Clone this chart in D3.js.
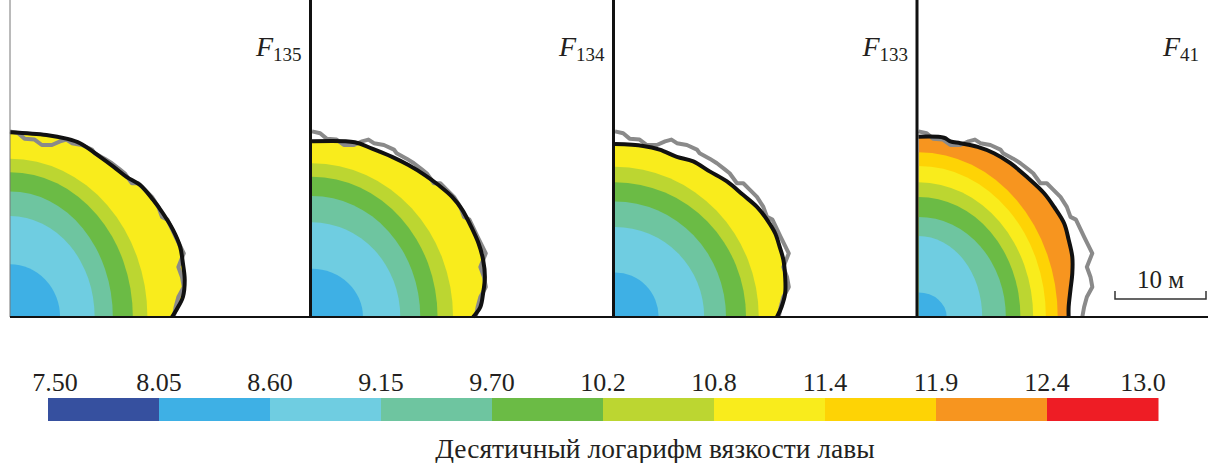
<!DOCTYPE html>
<html>
<head>
<meta charset="utf-8">
<script src="https://cdn.jsdelivr.net/npm/d3@7"></script>
<style>
  body { margin: 0; background: #fff; }
  svg { display: block; }
  text { font-family: "Liberation Serif", "DejaVu Serif", serif; fill: #231f20; }
</style>
</head>
<body>
<div id="chart"></div>
<script>

// colour classes (log10 of lava viscosity)
const classTicks = ["7.50", "8.05", "8.60", "9.15", "9.70", "10.2", "10.8", "11.4", "11.9", "12.4", "13.0"];
const classColors = ["#36509f", "#3eb0e5", "#6fcde1", "#6ec5a0", "#6bbb45", "#bcd631", "#f9ec1c", "#fed305", "#f7951f", "#ee1d25"];

// panels
const panelNames = ["135", "134", "133", "41"];
const outerClass = [6, 6, 6, 8];

// bands inside each flow: [class, rx (m), ry (m)], outer first
const bandsF135 = [[5, 15.1, 17.4], [4, 13.5, 15.9], [3, 11.3, 13.8], [2, 9.3, 11.1], [1, 5.5, 5.8]];
const bandsF134 = [[5, 15.5, 16.9], [4, 13.8, 15.4], [3, 11.9, 13.3], [2, 9.7, 10.4], [1, 5.6, 5.3]];
const bandsF133 = [[5, 15.8, 16.5], [4, 14.4, 14.8], [3, 12.2, 12.7], [2, 9.8, 9.9], [1, 4.8, 4.9]];
const bandsF41 = [[7, 15.3, 18.1], [6, 14.0, 16.6], [5, 12.6, 14.8], [4, 11.2, 13.2], [3, 9.6, 11.0], [2, 7.0, 8.9], [1, 3.1, 2.7]];

// modelled flow outline (m)
const edgeF135 = [[0, 20.3], [4.0, 20.0], [6.2, 19.6], [7.7, 19.1], [9.9, 17.6], [11.4, 16.5], [12.8, 15.4], [14.3, 14.5], [15.7, 12.9], [16.8, 11.4], [17.9, 9.6], [18.7, 7.7], [19.0, 5.9], [19.2, 4.1], [19.0, 2.2], [18.3, 0.8], [17.8, 0]];
const edgeF134 = [[0, 19.3], [4.7, 19.2], [6.6, 18.5], [8.8, 17.6], [10.6, 16.7], [12.4, 15.6], [13.9, 14.5], [15.4, 13.2], [16.5, 11.8], [17.5, 9.9], [18.3, 8.1], [18.8, 6.3], [19.0, 4.4], [18.8, 2.6], [18.5, 1.1], [17.7, 0]];
const edgeF133 = [[0, 19.0], [3.1, 18.8], [4.9, 18.4], [6.8, 17.6], [8.6, 17.1], [10.4, 16.0], [12.3, 14.9], [14.1, 13.4], [15.6, 12.1], [16.7, 10.7], [17.6, 9.2], [18.1, 7.7], [18.5, 6.3], [18.7, 4.4], [18.7, 2.6], [18.3, 1.1], [17.8, 0]];
const edgeF41 = [[0, 19.8], [2.8, 19.7], [3.5, 19.3], [4.6, 19.1], [6.5, 18.7], [8.3, 18.0], [10.1, 16.9], [11.9, 15.4], [13.8, 13.6], [14.9, 12.1], [16.0, 10.3], [16.5, 8.5], [16.9, 6.6], [16.9, 4.8], [16.7, 3.0], [16.5, 1.1], [16.5, 0]];

// observed flow outline (m)
const observed = [[0, 20.4], [0.9, 20.2], [1.6, 19.6], [2.7, 19.5], [3.5, 18.9], [4.6, 18.9], [5.5, 19.3], [6.2, 19.5], [6.8, 19.1], [7.9, 18.9], [9.0, 18.4], [9.3, 18.0], [10.4, 17.4], [11.2, 16.9], [12.1, 16.2], [12.6, 15.8], [13.4, 14.7], [14.1, 14.7], [14.8, 14.0], [15.6, 13.2], [16.3, 12.1], [16.7, 11.0], [17.3, 10.7], [18.2, 8.8], [19.1, 7.0], [18.5, 5.5], [18.9, 4.4], [19.1, 3.3], [18.5, 2.2], [18.2, 1.1], [18.0, 0]];

const panelBands = [bandsF135, bandsF134, bandsF133, bandsF41];
const panelEdges = [edgeF135, edgeF134, edgeF133, edgeF41];

const width = 1208, height = 463;
const baseY = 317;
const panelLeft = [10, 312, 615, 918.5];
const dividers = [310.5, 613.5, 917];

const svg = d3.select("#chart").append("svg")
    .attr("width", width)
    .attr("height", height);

// metres -> pixels, relative to each panel's corner
const x = d3.scaleLinear().domain([0, 10]).range([0, 91]);
const y = d3.scaleLinear().domain([0, 10]).range([0, -91]);
const color = d3.scaleOrdinal().domain(d3.range(10)).range(classColors);

const line = d3.line().x(d => x(d[0])).y(d => y(d[1]));
const smooth = d3.line().x(d => x(d[0])).y(d => y(d[1])).curve(d3.curveCatmullRom);

const defs = svg.append("defs");

panelNames.forEach((name, i) => {
    let g = svg.append("g")
        .attr("transform", `translate(${panelLeft[i]},${baseY})`);

    defs.append("clipPath")
        .attr("id", "clip-" + i)
        .append("path")
        .attr("d", smooth(panelEdges[i]) + "L0,0Z");

    let flow = g.append("g").attr("clip-path", `url(#clip-${i})`);

    flow.append("path")
        .attr("d", smooth(panelEdges[i]) + "L0,0Z")
        .attr("fill", color(outerClass[i]));

    flow.selectAll("ellipse")
        .data(panelBands[i])
        .enter()
        .append("ellipse")
        .attr("cx", 0)
        .attr("cy", 0)
        .attr("rx", d => x(d[1]))
        .attr("ry", d => -y(d[2]))
        .attr("fill", d => color(d[0]));

    g.append("path")
        .attr("d", line(observed))
        .attr("fill", "none")
        .attr("stroke", "#8a8a8a")
        .attr("stroke-width", 4)
        .attr("stroke-linejoin", "round");

    g.append("path")
        .attr("d", smooth(panelEdges[i]))
        .attr("fill", "none")
        .attr("stroke", "#111")
        .attr("stroke-width", 4)
        .attr("stroke-linejoin", "round");

    // label
    let right = i < 3 ? dividers[i] : width;
    let label = g.append("text")
        .attr("x", right - panelLeft[i] - 9)
        .attr("y", 56 - baseY)
        .attr("text-anchor", "end");
    label.append("tspan")
        .attr("font-style", "italic")
        .attr("font-size", "28px")
        .text("F");
    label.append("tspan")
        .attr("dy", 5)
        .attr("font-size", "19px")
        .text(name);
});

// frame
svg.append("line")
    .attr("x1", 10).attr("x2", 10)
    .attr("y1", 0).attr("y2", baseY)
    .attr("stroke", "#777")
    .attr("stroke-width", 1);

svg.selectAll(".divider")
    .data(dividers)
    .enter()
    .append("line")
    .attr("class", "divider")
    .attr("x1", d => d).attr("x2", d => d)
    .attr("y1", 0).attr("y2", baseY + 1)
    .attr("stroke", "#111")
    .attr("stroke-width", 3);

svg.append("line")
    .attr("x1", 10).attr("x2", width)
    .attr("y1", baseY).attr("y2", baseY)
    .attr("stroke", "#111")
    .attr("stroke-width", 2);

// scale bar, 10 m
let sb = svg.append("g").attr("transform", "translate(1115,299)");
sb.append("path")
    .attr("d", `M0,-8V0H${x(10)}V-8`)
    .attr("fill", "none")
    .attr("stroke", "#333")
    .attr("stroke-width", 1.5);
sb.append("text")
    .attr("x", x(10) / 2)
    .attr("y", -11)
    .attr("text-anchor", "middle")
    .attr("font-size", "25px")
    .text("10 м");

// colour bar
const cb = d3.scaleLinear().domain([0, 10]).range([48, 1158]);

svg.selectAll(".cb")
    .data(classColors)
    .enter()
    .append("rect")
    .attr("class", "cb")
    .attr("x", (d, i) => cb(i))
    .attr("y", 398)
    .attr("width", (d, i) => cb(i + 1) - cb(i) + 0.5)
    .attr("height", 23)
    .attr("fill", d => d);

// end labels are pulled in a little, as in the source figure
svg.selectAll(".cbt")
    .data(classTicks)
    .enter()
    .append("text")
    .attr("class", "cbt")
    .attr("x", (d, i) => cb(i) + (i === 0 ? 7 : i === classTicks.length - 1 ? -15 : 0))
    .attr("y", 391)
    .attr("text-anchor", "middle")
    .attr("font-size", "26px")
    .text(d => d);

svg.append("text")
    .attr("x", 655)
    .attr("y", 458)
    .attr("text-anchor", "middle")
    .attr("font-size", "27.5px")
    .text("Десятичный логарифм вязкости лавы");

</script>
</body>
</html>
